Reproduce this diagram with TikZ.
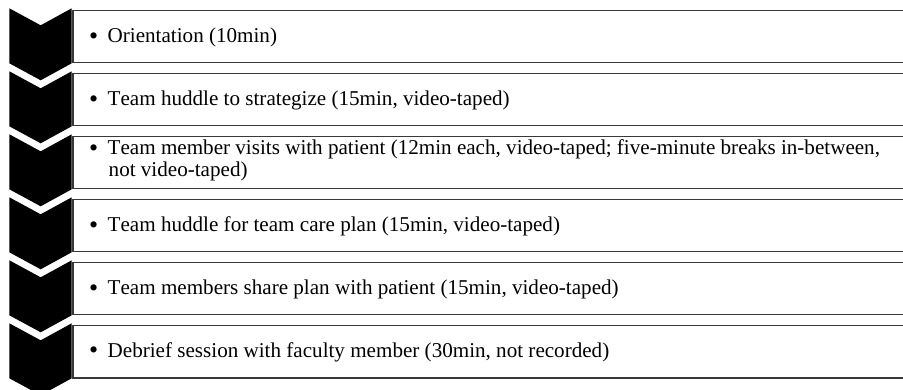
\documentclass[tikz,border=0pt]{standalone}
\usepackage{fontspec}
\setmainfont{Liberation Serif}[Kerning=Off]
\newcommand{\itembullet}{\makebox[19pt][l]{\hspace*{0.3pt}\raisebox{-1.6pt}{\fontsize{26}{26}\selectfont •}}}
\begin{document}
\begin{tikzpicture}[x=1pt,y=-1pt,
  chev/.style={fill=black},
  box/.style={draw=black!78, line width=1.5pt, fill=white, rectangle,
    minimum width=850pt, minimum height=52pt, inner sep=0pt, anchor=north west},
  itemtext/.style={anchor=base west, inner sep=0pt,
    font=\fontsize{21.1}{21.7}\selectfont}]
\useasboundingbox (0,0) rectangle (903,390);
\clip (0,0) rectangle (903,390);
% boxes
\node[box] (b1) at (72,10) {};
\node[box] (b2) at (72,73) {};
\node[box] (b3) at (72,136) {};
\node[box] (b4) at (72,199) {};
\node[box] (b5) at (72,262) {};
\node[box] (b6) at (72,325) {};
% chevrons
\foreach \k in {0,...,5}{
  \pgfmathsetmacro\t{8.3+63*\k}
  \fill[chev] (9.3,\t) -- (40.7,\t+17) -- (71.7,\t) -- (71.7,\t+55)
     -- (40.7,\t+72) -- (9.3,\t+55) -- cycle;
}
% texts
\node[itemtext] (t1) at (88.5,42.7) {\itembullet Orientation (10min)};
\node[itemtext] (t2) at (88.5,105.7) {\itembullet Team huddle to strategize (15min, video-taped)};
\node[itemtext] (t3) at (88.5,155) {\begin{tabular}[t]{@{}l@{}l@{}}\itembullet & Team member visits with patient (12min each, video-taped; five-minute breaks in-between,\\ & \hspace*{1pt}not video-taped)\end{tabular}};
\node[itemtext] (t4) at (88.5,231.7) {\itembullet Team huddle for team care plan (15min, video-taped)};
\node[itemtext] (t5) at (88.5,294.7) {\itembullet Team members share plan with patient (15min, video-taped)};
\node[itemtext] (t6) at (88.5,357.2) {\itembullet Debrief session with faculty member (30min, not recorded)};
\end{tikzpicture}
\end{document}
